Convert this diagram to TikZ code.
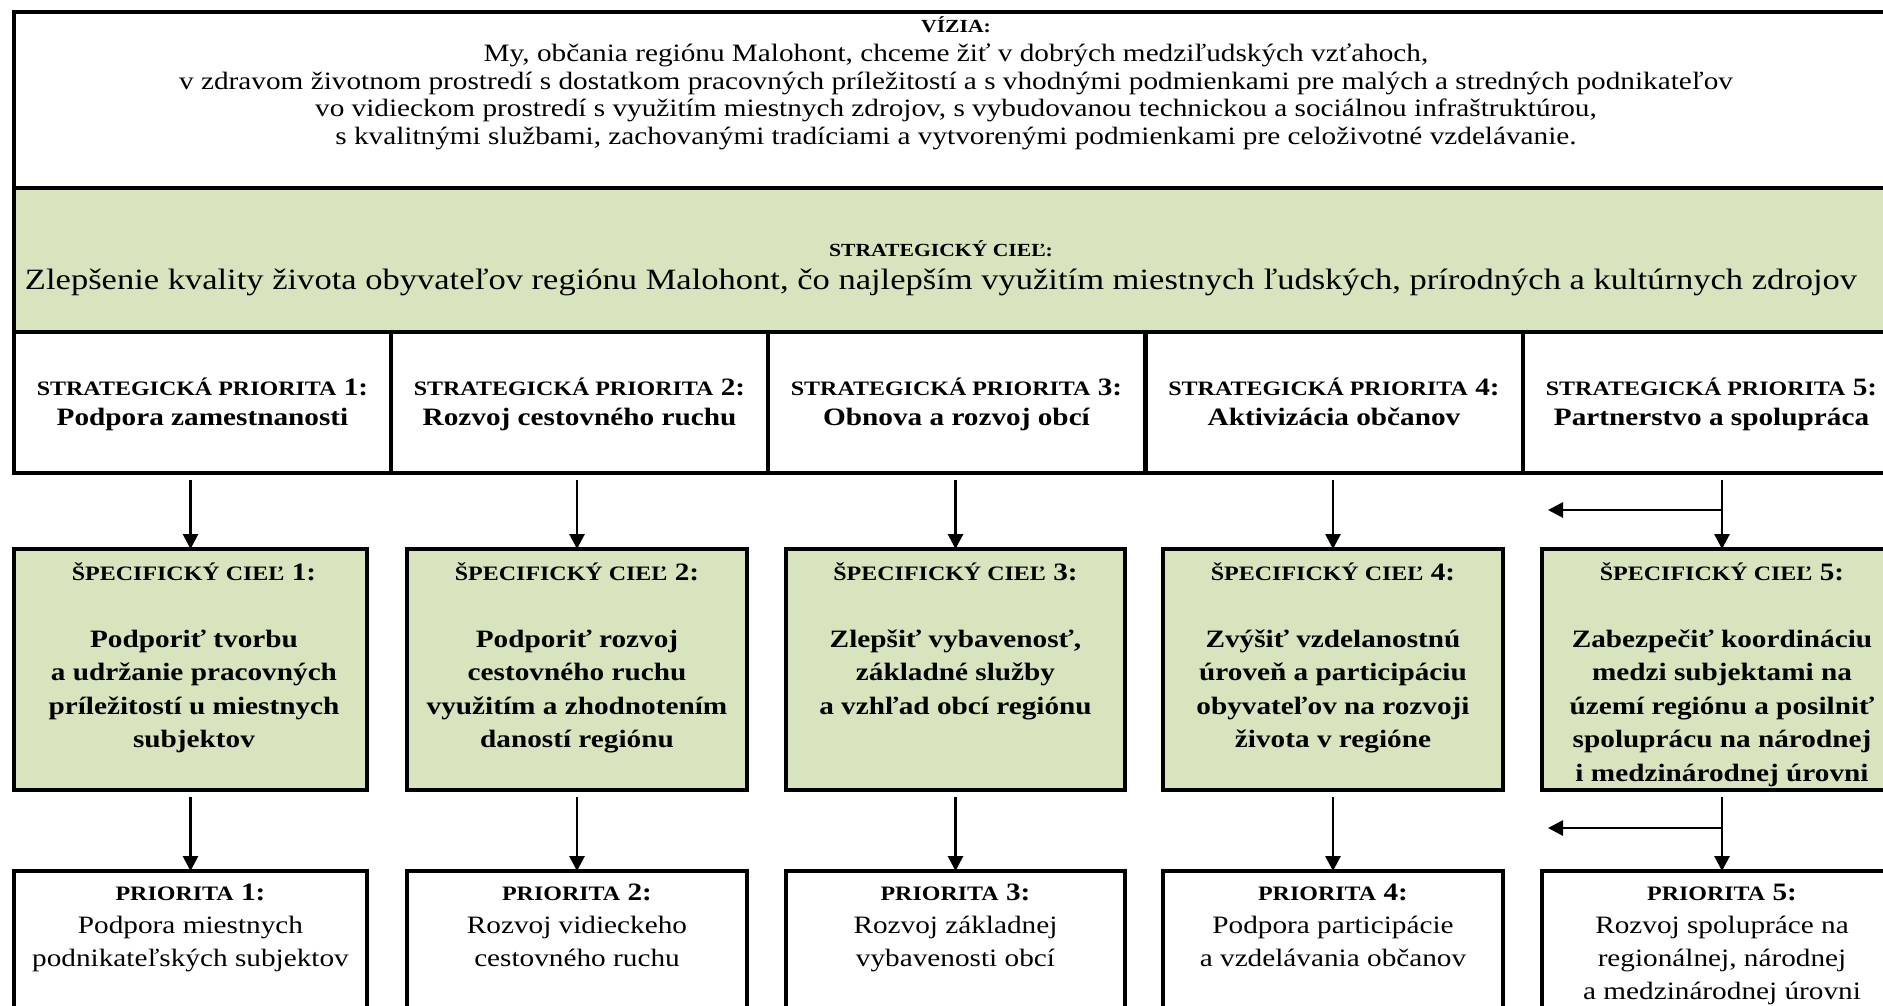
\documentclass[tikz,border=0pt]{standalone}
\usepackage{fontspec}
\setmainfont[FakeStretch=1.17]{Liberation Serif}
\usetikzlibrary{arrows.meta}
\definecolor{lgreen}{HTML}{D7E4BD}
\newcommand\hsc[1]{{\fontsize{20.5}{20}\selectfont #1}}
\newcommand\hsm[1]{{\fontsize{18.5}{18}\selectfont #1}}
\begin{document}
\begin{tikzpicture}[x=1pt,y=-1pt,
  bx/.style={draw=black,line width=4pt,inner sep=0pt,outer sep=0pt},
  gbx/.style={bx,fill=lgreen},
  txt/.style={align=center,inner sep=0pt,anchor=base},
  vtxt/.style={txt,font=\fontsize{25}{27.5}\selectfont},
  gtxt/.style={txt,font=\fontsize{29.5}{32.5}\selectfont},
  ptxt/.style={txt,font=\bfseries\fontsize{25}{30}\selectfont},
  stxt/.style={txt,font=\bfseries\fontsize{25}{33.5}\selectfont},
  btxt/.style={txt,font=\fontsize{25}{33}\selectfont},
  arr/.style={line width=2.8pt,-{Triangle[length=15pt,width=15pt]}},
]
\useasboundingbox (0,0) rectangle (1883,1005);
\clip (0,0) rectangle (1883,1005);
\fill[white] (0,0) rectangle (1883,1005);

% top boxes
\node[bx,minimum width=1886pt,minimum height=176pt] (vis) at (957,100) {};
\node[gbx,minimum width=1886pt,minimum height=144pt] (goal) at (957,260) {};
\foreach \i/\cx in {1/202.5,2/579.5,3/956.5,4/1334,5/1711.5}{
  \node[bx,minimum width=377pt,minimum height=141pt] (p\i) at (\cx,402.5) {};
}
% specific goals
\node[gbx,minimum width=353pt,minimum height=241pt] (s1) at (190.5,669.5) {};
\node[gbx,minimum width=340pt,minimum height=241pt] (s2) at (577,669.5) {};
\node[gbx,minimum width=339pt,minimum height=241pt] (s3) at (955.5,669.5) {};
\node[gbx,minimum width=340pt,minimum height=241pt] (s4) at (1333,669.5) {};
\node[gbx,minimum width=360pt,minimum height=241pt] (s5) at (1722,669.5) {};
% priorities
\node[bx,minimum width=353pt,minimum height=169pt] (b1) at (190.5,955.5) {};
\node[bx,minimum width=340pt,minimum height=169pt] (b2) at (577,955.5) {};
\node[bx,minimum width=339pt,minimum height=169pt] (b3) at (955.5,955.5) {};
\node[bx,minimum width=340pt,minimum height=169pt] (b4) at (1333,955.5) {};
\node[bx,minimum width=360pt,minimum height=169pt] (b5) at (1722,955.5) {};

% texts (base anchor = baseline of the last line)
\node[vtxt] (tvis) at (956,144) {\textbf{\hsm{VÍZIA:}}\\[2pt]
My, občania regiónu Malohont, chceme žiť v dobrých medziľudských vzťahoch,\\
v zdravom životnom prostredí s dostatkom pracovných príležitostí a s vhodnými podmienkami pre malých a stredných podnikateľov\\
vo vidieckom prostredí s využitím miestnych zdrojov, s vybudovanou technickou a sociálnou infraštruktúrou,\\
s kvalitnými službami, zachovanými tradíciami a vytvorenými podmienkami pre celoživotné vzdelávanie.};
\node[gtxt] (tgoal) at (941,289) {\textbf{\hsm{STRATEGICKÝ CIEĽ:}}\\
Zlepšenie kvality života obyvateľov regiónu Malohont, čo najlepším využitím miestnych ľudských, prírodných a kultúrnych zdrojov};

\node[ptxt] (tp1) at (p1 |- 0,425) {\hsc{STRATEGICKÁ PRIORITA} 1:\\Podpora zamestnanosti};
\node[ptxt] (tp2) at (p2 |- 0,425) {\hsc{STRATEGICKÁ PRIORITA} 2:\\Rozvoj cestovného ruchu};
\node[ptxt] (tp3) at (p3 |- 0,425) {\hsc{STRATEGICKÁ PRIORITA} 3:\\Obnova a rozvoj obcí};
\node[ptxt] (tp4) at (p4 |- 0,425) {\hsc{STRATEGICKÁ PRIORITA} 4:\\Aktivizácia občanov};
\node[ptxt] (tp5) at (p5 |- 0,425) {\hsc{STRATEGICKÁ PRIORITA} 5:\\Partnerstvo a spolupráca};

\node[stxt] (ts1) at (194,747.5) {\hsc{ŠPECIFICKÝ CIEĽ} 1:\\[33.5pt]Podporiť tvorbu\\a udržanie pracovných\\príležitostí u miestnych\\subjektov};
\node[stxt] (ts2) at (s2 |- 0,747.5) {\hsc{ŠPECIFICKÝ CIEĽ} 2:\\[33.5pt]Podporiť rozvoj\\cestovného ruchu\\využitím a zhodnotením\\daností regiónu};
\node[stxt] (ts3) at (s3 |- 0,714) {\hsc{ŠPECIFICKÝ CIEĽ} 3:\\[33.5pt]Zlepšiť vybavenosť,\\základné služby\\a vzhľad obcí regiónu};
\node[stxt] (ts4) at (s4 |- 0,747.5) {\hsc{ŠPECIFICKÝ CIEĽ} 4:\\[33.5pt]Zvýšiť vzdelanostnú\\úroveň a participáciu\\obyvateľov na rozvoji\\života v regióne};
\node[stxt] (ts5) at (s5 |- 0,781) {\hsc{ŠPECIFICKÝ CIEĽ} 5:\\[33.5pt]Zabezpečiť koordináciu\\medzi subjektami na\\území regiónu a posilniť\\spoluprácu na národnej\\i medzinárodnej úrovni};

\node[btxt] (tb1) at (b1 |- 0,966) {\textbf{\hsc{PRIORITA} 1:}\\Podpora miestnych\\podnikateľských subjektov};
\node[btxt] (tb2) at (b2 |- 0,966) {\textbf{\hsc{PRIORITA} 2:}\\Rozvoj vidieckeho\\cestovného ruchu};
\node[btxt] (tb3) at (b3 |- 0,966) {\textbf{\hsc{PRIORITA} 3:}\\Rozvoj základnej\\vybavenosti obcí};
\node[btxt] (tb4) at (b4 |- 0,966) {\textbf{\hsc{PRIORITA} 4:}\\Podpora participácie\\a vzdelávania občanov};
\node[btxt] (tb5) at (b5 |- 0,999) {\textbf{\hsc{PRIORITA} 5:}\\Rozvoj spolupráce na\\regionálnej, národnej\\a medzinárodnej úrovni};

% arrows
\foreach \i in {1,2,3,4,5}{
  \draw[arr,shorten <=7pt] (s\i.north |- p\i.south) -- (s\i.north);
  \draw[arr,shorten <=7pt] (b\i.north |- s\i.south) -- (b\i.north);
}
\coordinate (h1) at (1548,510);
\coordinate (h2) at (1548,828);
\draw[arr] (s5.north |- h1) -- (h1);
\draw[arr] (b5.north |- h2) -- (h2);
\end{tikzpicture}
\end{document}
